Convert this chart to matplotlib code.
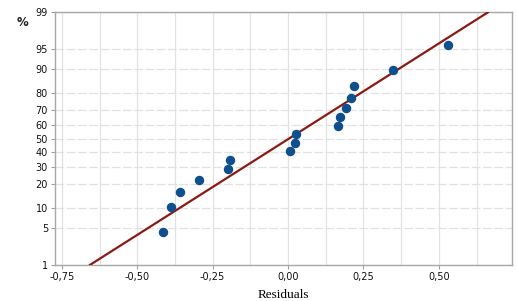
import numpy as np
import matplotlib
matplotlib.use("Agg")
import matplotlib.pyplot as plt
from matplotlib.ticker import FixedLocator, MultipleLocator
from statistics import NormalDist

# residuals (sorted) and their plotted percentages
residuals = [-0.414, -0.389, -0.358, -0.295, -0.199, -0.193, 0.006, 0.024,
             0.026, 0.167, 0.174, 0.193, 0.208, 0.220, 0.348, 0.531]
percents = [4.27, 10.37, 16.46, 22.56, 28.66, 34.76, 40.85, 46.95,
            53.05, 59.15, 65.24, 71.34, 77.44, 83.54, 89.63, 95.73]

y_ticks = [1, 5, 10, 20, 30, 40, 50, 60, 70, 80, 90, 95, 99]
x_ticks = [-0.75, -0.50, -0.25, 0.0, 0.25, 0.50]
x_labels = ["-0,75", "-0,50", "-0,25", "0,00", "0,25", "0,50"]

nd = NormalDist()
_ppf = np.vectorize(lambda v: nd.inv_cdf(v / 100.0), otypes=[float])
_cdf = np.vectorize(lambda v: nd.cdf(v) * 100.0, otypes=[float])


def fwd(p):
    p = np.clip(np.asarray(p, dtype=float), 1e-6, 100 - 1e-6)
    return _ppf(p)


def inv(z):
    return _cdf(np.asarray(z, dtype=float))


# fitted normal line
mu = np.mean(residuals)
sd = np.std(residuals, ddof=1)
line_p = np.array([1.0, 99.0])
line_x = mu + sd * np.array([nd.inv_cdf(p / 100) for p in line_p])

fig = plt.figure(figsize=(5.18, 3.01), dpi=100)
ax = fig.add_axes([0.106, 0.12, 0.882, 0.839])
ax.set_yscale("function", functions=(fwd, inv))

ax.plot(line_x, line_p, color="#8b1a14", lw=1.6, zorder=3)
ax.plot(residuals, percents, "o", color="#0e4f8c", ms=5.8, zorder=4)

ax.set_xlim(-0.773, 0.742)
ax.set_ylim(1, 99)

ax.yaxis.set_major_locator(FixedLocator(y_ticks))
ax.set_yticklabels([str(t) for t in y_ticks])
ax.yaxis.set_minor_locator(FixedLocator([]))
ax.set_xticks(x_ticks)
ax.set_xticklabels(x_labels)
ax.xaxis.set_minor_locator(MultipleLocator(0.125))

ax.tick_params(axis="both", which="major", labelsize=7, length=3,
               color="#a0a0a0", pad=2, labelcolor="#111111")
ax.tick_params(axis="x", which="minor", length=0)
for lbl in ax.get_xticklabels() + ax.get_yticklabels():
    lbl.set_fontweight("medium")

ax.grid(True, axis="y", color="#e2e2e2", lw=0.9, linestyle=(0, (7, 2)))
ax.grid(True, axis="x", which="both", color="#e2e2e2", lw=0.9)
ax.set_axisbelow(True)

for s in ax.spines.values():
    s.set_color("#a8a8a8")
    s.set_linewidth(1.0)

ax.set_xlabel("Residuals", family="Liberation Serif", fontsize=9.5, labelpad=5)
fig.text(0.043, 0.924, "%", fontsize=8.5, fontweight="bold",
         ha="center", va="center", color="#222222")

fig.savefig("out.png", dpi=100)
